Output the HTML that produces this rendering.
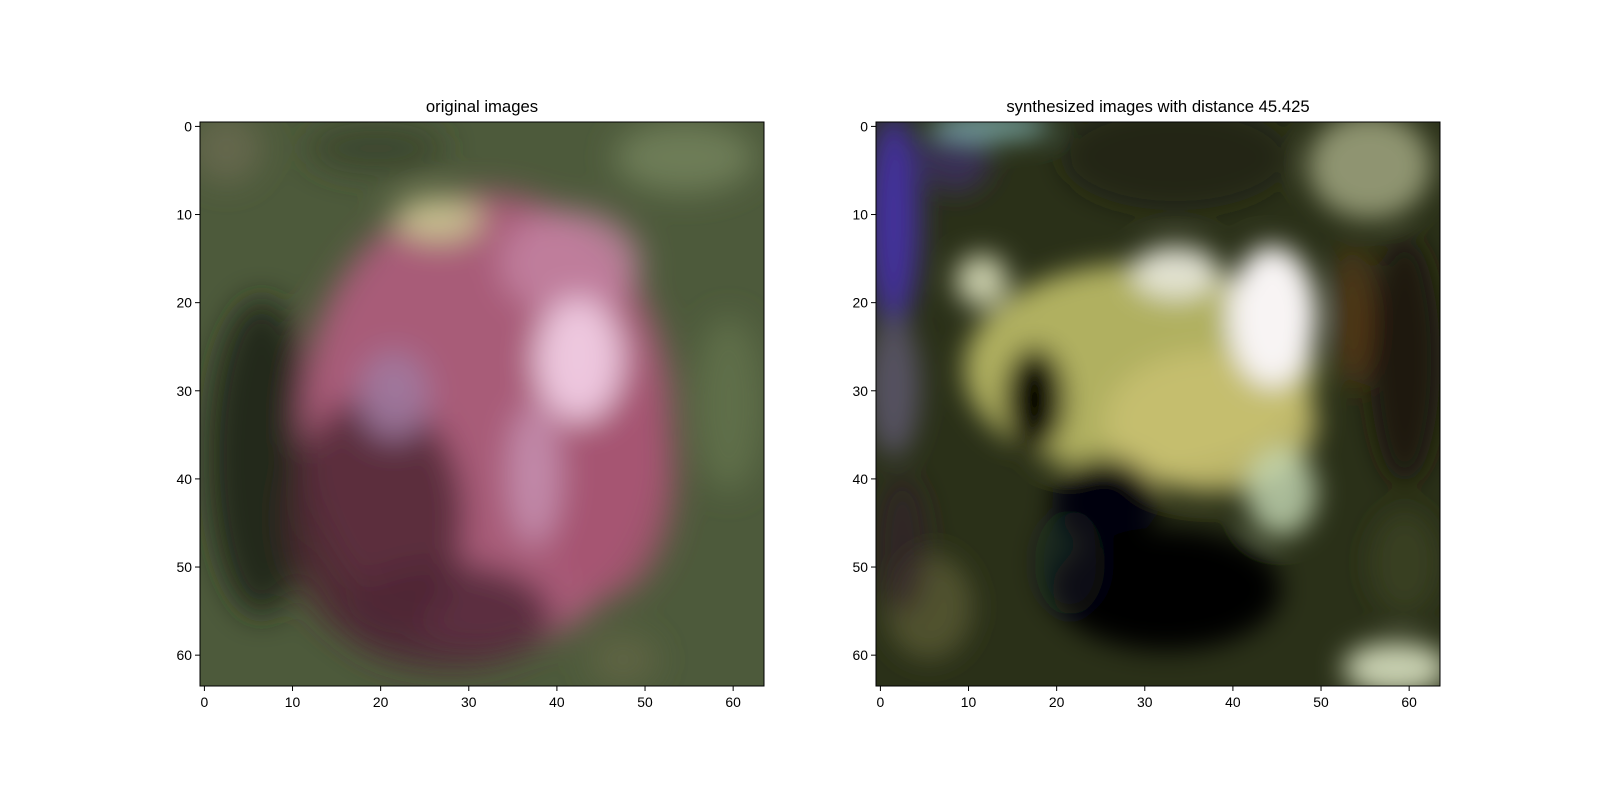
<!DOCTYPE html>
<html><head><meta charset="utf-8">
<style>
body{margin:0;background:#fff;}
svg{display:block;font-family:"Liberation Sans","DejaVu Sans",sans-serif;}
</style></head>
<body>
<svg id="fig" width="1600" height="800" viewBox="0 0 1600 800" xmlns="http://www.w3.org/2000/svg">
<defs>
<filter id="blurA" x="-20%" y="-20%" width="140%" height="140%"><feGaussianBlur stdDeviation="1.8"/></filter>
<filter id="blurB" x="-20%" y="-20%" width="140%" height="140%"><feGaussianBlur stdDeviation="1.5"/></filter>
</defs>
<rect width="1600" height="800" fill="#fff"/>
<g id="panels"></g>
</svg>
<script>
const panels = [
  {title:"original images", x0:200, y0:122, w:564, h:564},
  {title:"synthesized images with distance 45.425", x0:876, y0:122, w:564, h:564}
];
const xTicks = [0,10,20,30,40,50,60];
const yTicks = [0,10,20,30,40,50,60];
const N = 64;

// blobs: [cx, cy, rx, ry, color, opacity]
const leftBase = "#4d5a3b";
const leftBlobs = [
  [55,4,8,4,"#76865e",0.8],
  [3,3,4,4,"#747258",0.6],
  [20,3,8,3,"#343b24",0.6],
  [7,38,6,18,"#1f2418",0.9],
  [60,32,4,10,"#667650",0.7],
  [32.5,34,21,26,"#a85c78",1],
  [20,45,10,14,"#4f2634",0.85],
  [28,56,12,6,"#4e2635",0.85],
  [46,40,8,14,"#a55470",0.8],
  [42,16,8,6,"#c486a4",0.8],
  [27,11,5,2.5,"#c8c090",1],
  [43,27,5,7,"#f0cce4",0.95],
  [38,40,3,8,"#c896b6",0.8],
  [22,31,4,5,"#a07aa0",0.9],
  [48,61,4,3,"#6a6a48",0.6]
];
const rightBase = "#2a3018";
const rightBlobs = [
  [2,11,3,12,"#4630a8",0.9],
  [9,4,4,4,"#402f70",0.7],
  [2,30,3,8,"#6a6080",0.7],
  [13,0.5,7,1.5,"#80b0b0",0.9],
  [56,5,7,6,"#9aa07a",0.9],
  [34,4,13,6,"#1c2014",0.6],
  [30,28,20,12,"#b0b060",1],
  [38,34,12,8,"#c8c070",0.9],
  [45,22,5,8,"#f8f4f4",1],
  [34,17,5,3,"#eaeade",0.9],
  [12,18,3,3,"#d8dcb8",0.9],
  [46,42,4,5,"#c8dcb8",0.8],
  [18,31.5,3.5,6,"#050604",1],
  [26,43,6,5,"#060608",1],
  [33,53,13,7,"#030304",1],
  [22,50,4,6,"#101428",0.4],
  [60,27,4,14,"#1a140c",0.95],
  [54,22,2,8,"#6a3a18",0.6],
  [59,62,6,3,"#c8d0b0",1],
  [6,55,5,6,"#606038",0.7],
  [3,48,3,8,"#30202c",0.6],
  [60,50,4,6,"#404a28",0.6]
];

const NS="http://www.w3.org/2000/svg";
const root=document.getElementById('panels');
function el(tag,attrs,parent){const e=document.createElementNS(NS,tag);for(const k in attrs)e.setAttribute(k,attrs[k]);(parent||root).appendChild(e);return e;}

panels.forEach((p,i)=>{
  const sx=v=>p.x0+(v+0.5)*p.w/N;
  const sy=v=>p.y0+(v+0.5)*p.h/N;
  const g=el('g',{});
  
  
  const img=el('svg',{x:p.x0,y:p.y0,width:p.w,height:p.h,viewBox:"0 0 64 64",preserveAspectRatio:"none"},g);
  
  
  el('rect',{x:0,y:0,width:64,height:64,fill:i===0?leftBase:rightBase},img);
  const bg=el('g',{filter:i===0?'url(#blurA)':'url(#blurB)'},img);
  (i===0?leftBlobs:rightBlobs).forEach(b=>{
    const e=el('ellipse',{cx:b[0],cy:b[1],rx:b[2],ry:b[3],fill:b[4],'fill-opacity':b[5]},bg);
    
    
  });
  const fr=el('rect',{x:p.x0,y:p.y0,width:p.w,height:p.h,fill:'none',stroke:'#000','stroke-width':1},g);
  
  
  const t=el('text',{x:p.x0+p.w/2,y:p.y0-10,'text-anchor':'middle','font-size':16.7,fill:'#000'},g);
  t.textContent=p.title;
  
  
  xTicks.forEach(v=>{
    const x=sx(v);
    el('line',{x1:x,x2:x,y1:p.y0+p.h,y2:p.y0+p.h+5,stroke:'#000','stroke-width':1},g);
    const l=el('text',{x:x,y:p.y0+p.h+21,'text-anchor':'middle','font-size':13.9,fill:'#000'},g);
    l.textContent=v;
    
    
  });
  yTicks.forEach(v=>{
    const y=sy(v);
    el('line',{x1:p.x0-5,x2:p.x0,y1:y,y2:y,stroke:'#000','stroke-width':1},g);
    const l=el('text',{x:p.x0-8,y:y+5,'text-anchor':'end','font-size':13.9,fill:'#000'},g);
    l.textContent=v;
    
    
  });
});
</script>
</body></html>
